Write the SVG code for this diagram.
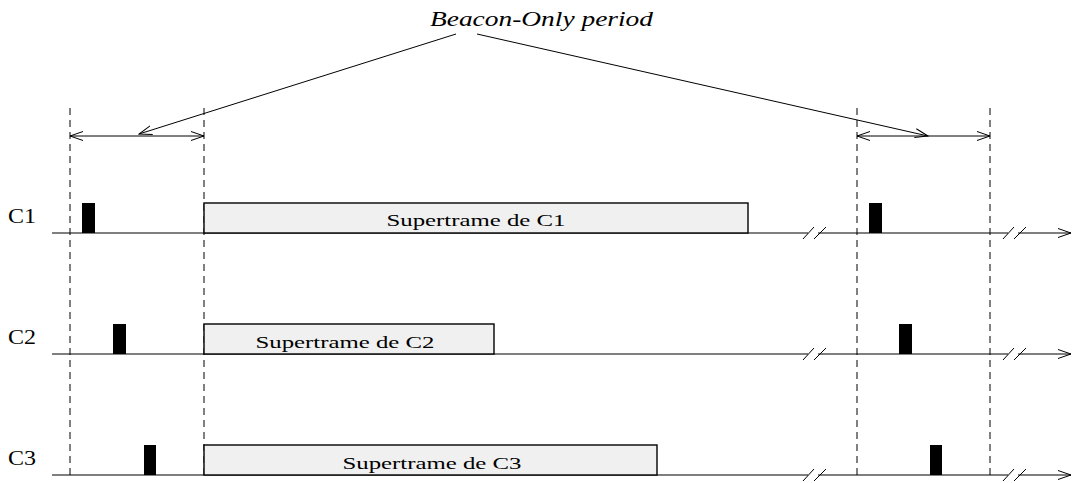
<svg xmlns="http://www.w3.org/2000/svg" width="1072" height="483" viewBox="0 0 1072 483">
<style>
.dash{stroke:#000;stroke-width:1;stroke-dasharray:7,5;fill:none}
.axis{stroke:#000;stroke-width:1.2;fill:none}
.thin{stroke:#000;stroke-width:1;fill:none}
.sf{fill:#f0f0f0;stroke:#000;stroke-width:1.4}
.bc{fill:#000}
.lbl{font-family:"Liberation Serif",serif;font-size:20px;fill:#000}
.sft{font-family:"Liberation Serif",serif;font-size:17px;fill:#000;text-anchor:middle}
.ttl{font-family:"Liberation Serif",serif;font-size:21px;font-style:italic;fill:#000}
</style>
<defs>
<marker id="ah" markerWidth="14" markerHeight="10" refX="13" refY="5" orient="auto-start-reverse" markerUnits="userSpaceOnUse">
<path d="M0,0.5 L13,5 L0,9.5" fill="none" stroke="#000" stroke-width="1"/>
</marker>
</defs>
<g id="guides">
<line class="dash" x1="70" y1="108" x2="70" y2="476"/>
<line class="dash" x1="204" y1="108" x2="204" y2="476"/>
<line class="dash" x1="857" y1="108" x2="857" y2="476"/>
<line class="dash" x1="990" y1="108" x2="990" y2="476"/>
</g>
<g id="title">
<text class="ttl" x="430" y="26" textLength="223" lengthAdjust="spacingAndGlyphs">Beacon-Only period</text>
</g>
<g id="connectors">
<line class="thin" x1="456" y1="34" x2="139" y2="134" marker-end="url(#ah)"/>
<line class="thin" x1="477" y1="34" x2="928" y2="136" marker-end="url(#ah)"/>
<line class="thin" x1="70" y1="136" x2="204" y2="136" marker-start="url(#ah)" marker-end="url(#ah)"/>
<line class="thin" x1="857" y1="136" x2="990" y2="136" marker-start="url(#ah)" marker-end="url(#ah)"/>
</g>
<g id="c1">
<text class="lbl" x="8" y="223" textLength="28" lengthAdjust="spacingAndGlyphs">C1</text>
<path class="axis" d="M52,233 H808 M818,233 H1008 M1018,233 H1071" marker-end="url(#ah)"/>
<path class="thin" d="M803,239 L814,227 M814,239 L826,227 M1003,239 L1014,227 M1014,239 L1026,227"/>
<rect class="bc" x="82" y="203" width="13" height="30"/>
<rect class="bc" x="869" y="203" width="13" height="30"/>
<rect class="sf" x="204" y="203" width="544" height="30"/>
<text class="sft" x="476" y="226" textLength="179" lengthAdjust="spacingAndGlyphs">Supertrame de C1</text>
</g>
<g id="c2">
<text class="lbl" x="8" y="344" textLength="28" lengthAdjust="spacingAndGlyphs">C2</text>
<path class="axis" d="M52,354 H808 M818,354 H1008 M1018,354 H1071" marker-end="url(#ah)"/>
<path class="thin" d="M803,360 L814,348 M814,360 L826,348 M1003,360 L1014,348 M1014,360 L1026,348"/>
<rect class="bc" x="113" y="324" width="13" height="30"/>
<rect class="bc" x="899" y="324" width="13" height="30"/>
<rect class="sf" x="204" y="324" width="290" height="30"/>
<text class="sft" x="345" y="348" textLength="179" lengthAdjust="spacingAndGlyphs">Supertrame de C2</text>
</g>
<g id="c3">
<text class="lbl" x="8" y="465" textLength="28" lengthAdjust="spacingAndGlyphs">C3</text>
<path class="axis" d="M52,475 H808 M818,475 H1008 M1018,475 H1071" marker-end="url(#ah)"/>
<path class="thin" d="M803,481 L814,469 M814,481 L826,469 M1003,481 L1014,469 M1014,481 L1026,469"/>
<rect class="bc" x="144" y="445" width="12" height="30"/>
<rect class="bc" x="930" y="445" width="12" height="30"/>
<rect class="sf" x="204" y="445" width="453" height="30"/>
<text class="sft" x="432" y="469" textLength="179" lengthAdjust="spacingAndGlyphs">Supertrame de C3</text>
</g>
</svg>
